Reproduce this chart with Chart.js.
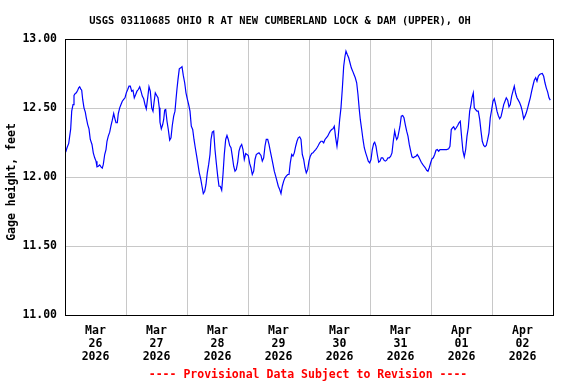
<!DOCTYPE html>
<html>
<head>
<meta charset="utf-8">
<script src="https://cdn.jsdelivr.net/npm/chart.js@4/dist/chart.umd.min.js"></script>
<style>
html,body{margin:0;padding:0;background:#fff;}
#wrap{width:576px;height:384px;}
</style>
</head>
<body>
<div id="wrap"><canvas id="c" width="576" height="384"></canvas></div>
<script>
// ---- data (hours since Mar 26 2026 00:00, gage height in feet) ----
const titleText = "USGS 03110685 OHIO R AT NEW CUMBERLAND LOCK & DAM (UPPER), OH";
const yAxisTitle = "Gage height, feet";
const footerText = "---- Provisional Data Subject to Revision ----";
const dayMonths = ["Mar","Mar","Mar","Mar","Mar","Mar","Apr","Apr"];
const dayNumbers = ["26","27","28","29","30","31","01","02"];
const dayYears = ["2026","2026","2026","2026","2026","2026","2026","2026"];
const yTicks = [11.00, 11.50, 12.00, 12.50, 13.00];

const hours = [
0.28,0.79,1.46,1.85,2.24,2.64,3.15,3.54,4.05,4.45,5.00,5.39,5.78,6.18,6.57,6.96,7.47,7.99,8.38,8.93,9.44,9.95,10.62,11.13,11.68,12.20,12.59,13.10,13.65,14.16,14.67,15.07,15.62,16.13,16.52,17.03,17.59,18.10,18.61,19.16,19.55,20.06,20.58,20.97,21.52,22.03,22.54,23.09,23.60,24.12,24.67,25.18,25.69,26.24,26.75,27.26,27.81,28.32,28.84,29.39,29.90,30.41,30.96,31.47,31.98,32.54,33.05,33.56,34.11,34.62,35.01,35.53,36.08,36.59,37.10,37.37,37.89,38.44,
38.83,39.22,39.62,40.13,40.64,41.19,41.70,42.21,42.76,43.27,43.67,44.06,44.46,44.97,45.52,46.03,46.54,47.09,47.60,48.11,48.66,49.18,49.69,50.24,50.75,51.26,51.81,52.32,52.84,53.39,53.90,54.41,54.96,55.47,55.98,56.53,57.04,57.44,57.95,58.50,59.01,59.52,60.08,60.59,61.10,61.65,62.16,62.67,63.22,63.73,64.24,64.80,65.31,65.82,66.37,66.88,67.39,67.94,68.45,68.96,69.52,70.03,70.54,71.09,71.60,72.11,72.66,73.17,73.69,74.24,74.75,75.26,75.81,76.32,
77.11,77.62,78.17,78.68,79.19,79.75,80.26,80.77,81.32,81.83,82.34,82.89,83.40,83.92,84.47,84.98,85.49,86.04,86.55,87.06,87.62,88.13,88.64,89.19,89.70,90.21,90.76,91.27,91.78,92.34,92.85,93.36,93.91,94.42,94.93,95.48,95.99,96.50,97.06,97.57,98.08,98.63,99.14,99.65,100.20,100.71,101.23,101.78,102.29,102.80,103.35,103.86,104.37,104.92,105.44,105.95,106.50,107.01,107.52,108.07,108.58,109.09,109.65,110.16,110.55,111.06,111.61,112.12,112.64,113.19,113.70,114.21,114.76,
115.27,115.78,116.18,116.73,117.24,117.75,118.30,118.81,119.32,119.87,120.39,120.90,121.45,121.84,122.35,122.86,123.41,123.92,124.44,124.99,125.50,126.01,126.56,127.07,127.58,128.14,128.65,129.16,129.71,130.10,130.50,130.89,131.28,131.79,132.31,132.86,133.37,133.88,134.43,134.94,135.45,136.01,136.52,137.03,137.58,138.09,138.60,139.15,139.66,140.17,140.73,141.24,141.75,142.30,142.81,143.32,143.87,144.38,144.90,145.45,145.96,146.47,147.02,147.53,148.04,149.10,150.16,150.95,151.46,151.98,152.53,152.92,
153.44,153.95,154.50,155.01,155.52,156.07,156.58,157.09,157.65,158.16,158.67,159.22,159.73,160.12,160.64,161.03,161.58,162.09,162.60,163.16,163.67,164.18,164.73,165.24,165.75,166.30,166.81,167.32,167.88,168.39,168.90,169.45,169.96,170.47,171.02,171.53,172.04,172.60,173.11,173.62,174.17,174.68,175.19,175.74,176.25,176.77,177.32,177.83,178.34,178.89,179.40,179.91,180.46,180.98,181.49,182.04,182.55,183.06,183.61,184.12,184.64,185.19,185.70,186.21,186.76,187.27,187.78,188.33,188.84,189.35,189.91,190.42,190.93
];
const gage = [
12.180,12.212,12.243,12.296,12.349,12.477,12.525,12.591,12.605,12.610,12.629,12.646,12.654,12.639,12.629,12.562,12.501,12.470,12.429,12.380,12.349,12.272,12.236,12.175,12.139,12.115,12.074,12.078,12.088,12.074,12.064,12.091,12.163,12.199,12.259,12.296,12.325,12.373,12.412,12.460,12.429,12.393,12.393,12.460,12.501,12.525,12.549,12.562,12.574,12.610,12.634,12.658,12.658,12.622,12.629,12.574,12.598,12.622,12.634,12.654,12.622,12.586,12.567,12.525,12.494,12.574,12.654,12.622,12.501,12.477,12.538,12.610,12.591,12.574,12.501,12.397,12.349,12.380,
12.417,12.484,12.489,12.404,12.344,12.267,12.284,12.373,12.441,12.477,12.562,12.639,12.707,12.784,12.791,12.799,12.736,12.683,12.610,12.567,12.525,12.477,12.368,12.344,12.272,12.212,12.151,12.091,12.030,11.987,11.933,11.880,11.897,11.946,12.030,12.091,12.163,12.272,12.325,12.332,12.199,12.103,12.006,11.933,11.933,11.904,12.018,12.163,12.272,12.301,12.272,12.228,12.212,12.151,12.078,12.042,12.054,12.107,12.187,12.219,12.236,12.199,12.127,12.170,12.163,12.156,12.098,12.067,12.018,12.042,12.127,12.163,12.170,12.175,
12.156,12.115,12.139,12.223,12.272,12.272,12.236,12.187,12.139,12.091,12.042,12.006,11.970,11.933,11.909,11.880,11.933,11.970,11.994,12.006,12.018,12.018,12.103,12.163,12.151,12.175,12.223,12.259,12.284,12.291,12.272,12.163,12.127,12.067,12.030,12.054,12.115,12.151,12.170,12.175,12.187,12.199,12.212,12.228,12.248,12.259,12.259,12.248,12.272,12.284,12.296,12.315,12.332,12.344,12.349,12.368,12.284,12.223,12.296,12.417,12.501,12.634,12.803,12.875,12.912,12.888,12.864,12.828,12.791,12.767,12.743,12.719,12.683,
12.598,12.489,12.417,12.344,12.272,12.212,12.175,12.146,12.115,12.103,12.127,12.199,12.243,12.252,12.223,12.163,12.107,12.115,12.139,12.139,12.122,12.115,12.122,12.139,12.139,12.151,12.175,12.259,12.332,12.296,12.272,12.284,12.320,12.368,12.441,12.446,12.429,12.380,12.332,12.296,12.236,12.187,12.146,12.139,12.146,12.151,12.163,12.146,12.127,12.107,12.091,12.078,12.067,12.049,12.042,12.067,12.103,12.132,12.139,12.163,12.194,12.199,12.187,12.199,12.199,12.199,12.199,12.204,12.223,12.344,12.357,12.364,
12.344,12.357,12.373,12.393,12.404,12.284,12.187,12.146,12.199,12.296,12.357,12.477,12.525,12.574,12.610,12.501,12.489,12.477,12.477,12.417,12.332,12.259,12.228,12.219,12.228,12.272,12.320,12.429,12.489,12.549,12.567,12.525,12.477,12.446,12.422,12.436,12.477,12.525,12.549,12.574,12.557,12.509,12.525,12.586,12.622,12.658,12.605,12.574,12.557,12.538,12.513,12.477,12.422,12.441,12.465,12.501,12.538,12.574,12.622,12.663,12.701,12.719,12.694,12.730,12.743,12.748,12.750,12.730,12.683,12.646,12.615,12.574,12.557
];

const FONT = '"DejaVu Sans Mono", "Liberation Mono", monospace';
const GRID = '#c8c8c8';

const textPlugin = {
  id: 'usgsText',
  afterDraw(chart) {
    const ctx = chart.ctx;
    const a = chart.chartArea;
    ctx.save();
    // frame
    ctx.strokeStyle = '#000';
    ctx.lineWidth = 1;
    ctx.strokeRect(Math.round(a.left) + 0.5, Math.round(a.top) + 0.5,
                   Math.round(a.right - a.left), Math.round(a.bottom - a.top));
    // title
    ctx.fillStyle = '#000';
    ctx.textAlign = 'center';
    ctx.textBaseline = 'middle';
    ctx.font = 'bold 10.4px ' + FONT;
    ctx.fillText(titleText, 280, 21);
    // footer
    ctx.fillStyle = '#ff0000';
    ctx.font = 'bold 11.5px ' + FONT;
    ctx.fillText(footerText, 308, 375);
    // y title
    ctx.fillStyle = '#000';
    ctx.translate(12, 182);
    ctx.rotate(-Math.PI / 2);
    ctx.fillText(yAxisTitle, 0, 0);
    ctx.restore();
  }
};

const points = hours.map((h, i) => ({ x: h, y: gage[i] }));

new Chart(document.getElementById('c'), {
  type: 'line',
  data: {
    datasets: [{
      data: points,
      borderColor: '#0000ff',
      borderWidth: 1.2,
      pointRadius: 0,
      tension: 0,
      fill: false
    }]
  },
  options: {
    responsive: false,
    animation: false,
    layout: { padding: { top: 39, right: 23, left: 0, bottom: 0 } },
    plugins: { legend: { display: false }, tooltip: { enabled: false } },
    scales: {
      x: {
        type: 'linear',
        min: 0,
        max: 192,
        afterBuildTicks(axis) {
          const t = [];
          for (let v = 0; v <= 192; v += 12) t.push({ value: v });
          axis.ticks = t;
        },
        afterFit(axis) { axis.height = 69; },
        grid: {
          drawTicks: false,
          color: (c) => (c.tick && c.tick.value % 24 === 0) ? GRID : 'rgba(0,0,0,0)',
          lineWidth: 1
        },
        border: { display: false },
        ticks: {
          autoSkip: false,
          maxRotation: 0,
          minRotation: 0,
          padding: 9,
          color: '#000',
          font: { family: FONT, size: 11.5, weight: 'bold', lineHeight: 1.15 },
          callback(v) {
            if (v % 24 !== 12) return '';
            const i = Math.floor(v / 24);
            return [dayMonths[i], dayNumbers[i], dayYears[i]];
          }
        }
      },
      y: {
        min: 11,
        max: 13,
        afterBuildTicks(axis) { axis.ticks = yTicks.map(v => ({ value: v })); },
        afterFit(axis) { axis.width = 65; },
        grid: { drawTicks: false, color: GRID, lineWidth: 1 },
        border: { display: false },
        ticks: {
          padding: 8,
          color: '#000',
          font: { family: FONT, size: 11.5, weight: 'bold' },
          callback: (v) => Number(v).toFixed(2)
        }
      }
    }
  },
  plugins: [textPlugin]
});
</script>
</body>
</html>
